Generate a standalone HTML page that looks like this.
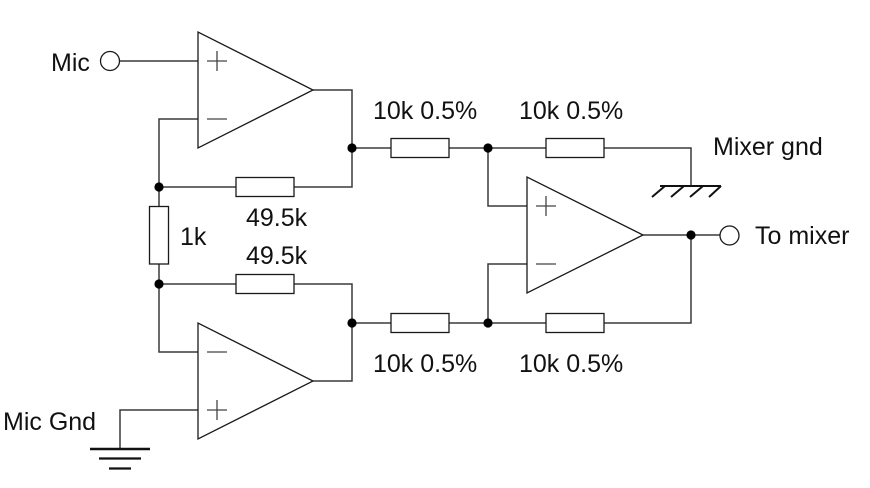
<!DOCTYPE html>
<html>
<head>
<meta charset="utf-8">
<style>
html,body{margin:0;padding:0;background:#fff;}
svg{display:block;}
text{font-family:"Liberation Sans",Arial,sans-serif;font-size:25px;fill:#111;}
</style>
</head>
<body>
<svg width="870" height="488" viewBox="0 0 870 488" xmlns="http://www.w3.org/2000/svg">
<rect width="870" height="488" fill="#fff"/>
<g fill="none" stroke="#3a3a3a" stroke-width="1.5">
  <!-- opamp1 wiring -->
  <path d="M120,61 H198"/>
  <path d="M198,119 H159 V206.5"/>
  <path d="M313,90 H352 V187 H294"/>
  <path d="M236,187 H159"/>
  <path d="M352,148 H391"/>
  <path d="M449,148 H546"/>
  <path d="M604,148 H691 V186"/>
  <path d="M488,148 V206 H527"/>
  <!-- 1k -->
  <path d="M159,264 V352 H198"/>
  <path d="M159,284 H236"/>
  <path d="M294,284 H352 V381 H313"/>
  <!-- opamp2 plus to ground -->
  <path d="M198,410 H120 V449"/>
  <!-- lower network -->
  <path d="M352,323 H391"/>
  <path d="M449,323 H546"/>
  <path d="M604,323 H691 V235"/>
  <path d="M488,323 V264 H527"/>
  <path d="M643,235 H720"/>
</g>
<!-- op-amps -->
<g fill="#fff" stroke="#1a1a1a" stroke-width="1.3">
  <polygon points="198,32 198,148 313,90"/>
  <polygon points="198,323 198,439 313,381"/>
  <polygon points="527,177 527,293 643,235"/>
</g>
<!-- signs -->
<g stroke="#444" stroke-width="1.3" fill="none">
  <path d="M207,61 H227 M217,51 V71"/>
  <path d="M207,119 H227"/>
  <path d="M207,352 H227"/>
  <path d="M207,410 H227 M217,400 V420"/>
  <path d="M536,206 H556 M546,196 V216"/>
  <path d="M536,264 H556"/>
</g>
<!-- resistors -->
<g fill="#fff" stroke="#1a1a1a" stroke-width="1.3">
  <rect x="236" y="177.5" width="58" height="19"/>
  <rect x="149.5" y="206.5" width="19" height="57.5"/>
  <rect x="236" y="274.5" width="58" height="19"/>
  <rect x="391" y="138.5" width="58" height="19"/>
  <rect x="546" y="138.5" width="58" height="19"/>
  <rect x="391" y="313.5" width="58" height="19"/>
  <rect x="546" y="313.5" width="58" height="19"/>
</g>
<!-- terminals -->
<g fill="#fff" stroke="#1a1a1a" stroke-width="1.3">
  <circle cx="110" cy="61" r="9.5"/>
  <circle cx="729.5" cy="235.5" r="9.5"/>
</g>
<!-- junction dots -->
<g fill="#000">
  <circle cx="159" cy="187" r="4.6"/>
  <circle cx="352" cy="148" r="4.6"/>
  <circle cx="488" cy="148" r="4.6"/>
  <circle cx="159" cy="284" r="4.6"/>
  <circle cx="352" cy="323" r="4.6"/>
  <circle cx="488" cy="323" r="4.6"/>
  <circle cx="691" cy="235" r="4.6"/>
</g>
<!-- Mic ground -->
<g stroke="#111" fill="none">
  <path d="M90,449 H150" stroke-width="2.6"/>
  <path d="M99,458.5 H141" stroke-width="2.2"/>
  <path d="M109,468.5 H131" stroke-width="2.2"/>
</g>
<!-- chassis ground -->
<g stroke="#111" fill="none" stroke-width="2">
  <path d="M660,186 H721"/>
  <path d="M665,186 L652,197 M684,186 L671,197 M703,186 L690,197 M721,186 L709,197"/>
</g>
<!-- labels -->
<text x="51" y="71">Mic</text>
<text x="3" y="430">Mic Gnd</text>
<text x="180" y="245">1k</text>
<text x="246" y="226">49.5k</text>
<text x="246" y="264">49.5k</text>
<text x="373" y="119">10k 0.5%</text>
<text x="519" y="119">10k 0.5%</text>
<text x="373" y="372">10k 0.5%</text>
<text x="519" y="372">10k 0.5%</text>
<text x="713" y="155">Mixer gnd</text>
<text x="755" y="244">To mixer</text>
</svg>
</body>
</html>
